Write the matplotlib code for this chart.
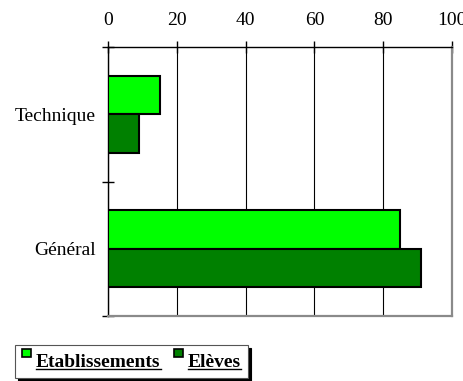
import matplotlib
matplotlib.use("Agg")
import matplotlib.pyplot as plt
from matplotlib.patches import Rectangle
from matplotlib.legend_handler import HandlerPatch
from matplotlib.lines import Line2D
import numpy as np

# Data
categories = ["Général", "Technique"]
etablissements = [85, 15]
eleves = [91, 9]
series_names = ["Etablissements", "Elèves"]
x_ticks = [0, 20, 40, 60, 80, 100]

light_green = "#00FF00"
dark_green = "#008000"

plt.rcParams["font.family"] = ["Liberation Serif", "DejaVu Serif"]

fig = plt.figure(figsize=(4.64, 3.81), dpi=100)
ax = fig.add_axes([108 / 464, 1 - 316 / 381, 344 / 464, 269 / 381])

y = np.arange(len(categories))
h = 0.286
ax.barh(y + h / 2, etablissements, height=h, color=light_green,
        edgecolor="black", linewidth=1.5, zorder=3)
ax.barh(y - h / 2, eleves, height=h, color=dark_green,
        edgecolor="black", linewidth=1.5, zorder=3)

ax.set_xlim(0, 100)
ax.set_ylim(-0.5, len(categories) - 0.5)

# x axis on top
ax.xaxis.tick_top()
ax.set_xticks(x_ticks)
ax.set_xticklabels([str(v) for v in x_ticks])
ax.tick_params(axis="x", which="major", direction="inout", length=8.6,
               width=1.0, pad=8.5, labelsize=14, colors="black")
ax.xaxis.grid(True, color="black", linewidth=0.8)
ax.set_axisbelow(True)

# y axis: labels at categories, tick marks between them
ax.set_yticks(y)
ax.set_yticklabels(categories)
ax.tick_params(axis="y", which="major", length=0, pad=8.6, labelsize=14)
ax.set_yticks(np.arange(-0.5, len(categories), 1.0), minor=True)
ax.tick_params(axis="y", which="minor", direction="inout", length=8.6,
               width=1.0)

for side in ("top", "left"):
    ax.spines[side].set_color("black")
    ax.spines[side].set_linewidth(1.0)
for side in ("right", "bottom"):
    ax.spines[side].set_color("#8a8a8a")
    ax.spines[side].set_linewidth(1.6)


def small_square(legend, orig_handle, xdescent, ydescent, width, height, fontsize):
    return Rectangle((-xdescent, 7.0), width, 6.0)


proxies = [Rectangle((0, 0), 1, 1, facecolor=c, edgecolor="black", linewidth=1.2)
           for c in (light_green, dark_green)]
leg = fig.legend(proxies, series_names, loc="lower left",
                 bbox_to_anchor=(15 / 464, 3 / 381), borderaxespad=0,
                 ncol=2, frameon=True, fancybox=False,
                 prop={"family": "Liberation Serif", "weight": "bold", "size": 14},
                 handlelength=0.46, handleheight=1.0, handletextpad=0.26,
                 columnspacing=0.7, borderpad=0.36,
                 shadow={"ox": 2.2, "oy": -2.2, "color": "black", "alpha": 1.0},
                 handler_map={Rectangle: HandlerPatch(patch_func=small_square)})
leg.get_frame().set_edgecolor("#555555")
leg.get_frame().set_linewidth(0.8)

# underline the legend entries
fig.canvas.draw()
renderer = fig.canvas.get_renderer()
W, H = fig.bbox.width, fig.bbox.height
for t in leg.get_texts():
    bb = t.get_window_extent(renderer)
    yy = (bb.y0 + 2.5) / H
    fig.add_artist(Line2D([bb.x0 / W, bb.x1 / W], [yy, yy], color="black",
                          linewidth=1.0, transform=fig.transFigure, zorder=10))

fig.savefig("out.png", dpi=100)
